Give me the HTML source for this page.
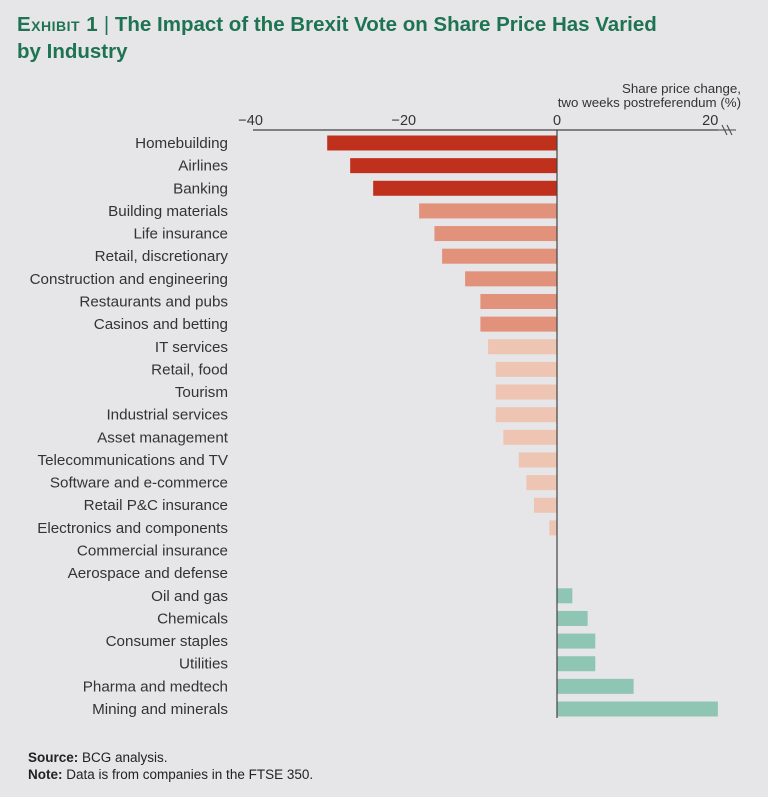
<!DOCTYPE html>
<html><head><meta charset="utf-8"><style>
body{margin:0;background:#e6e6e8;width:768px;height:797px;overflow:hidden;font-family:"Liberation Sans",sans-serif;}
#title{position:absolute;left:17px;top:11px;color:#1d7352;font-weight:bold;font-size:20.5px;line-height:27px;}
#title .ex{font-variant:small-caps;letter-spacing:0.5px}
.foot{position:absolute;left:28px;font-size:13.5px;color:#222}
</style></head><body>
<div id="title"><span class="ex">Exhibit 1</span><span style="font-weight:normal"> | </span>The Impact of the Brexit Vote on Share Price Has Varied<br>by Industry</div>
<svg id="chart" width="768" height="797" style="position:absolute;left:0;top:0"></svg>
<div class="foot" style="top:750px"><b>Source:</b> BCG analysis.</div>
<div class="foot" style="top:767px"><b>Note:</b> Data is from companies in the FTSE 350.</div>
<script>
const categories=["Homebuilding","Airlines","Banking","Building materials","Life insurance","Retail, discretionary","Construction and engineering","Restaurants and pubs","Casinos and betting","IT services","Retail, food","Tourism","Industrial services","Asset management","Telecommunications and TV","Software and e-commerce","Retail P&C insurance","Electronics and components","Commercial insurance","Aerospace and defense","Oil and gas","Chemicals","Consumer staples","Utilities","Pharma and medtech","Mining and minerals"];
const values=[-30,-27,-24,-18,-16,-15,-12,-10,-10,-9,-8,-8,-8,-7,-5,-4,-3,-1,0,0,2,4,5,5,10,21];
const tickValues=[-40,-20,0,20];
const tickLabels=["\u221240","\u221220","0","20"];
const NS="http://www.w3.org/2000/svg";
const svg=document.getElementById('chart');
const x=v=>557+v*7.66;
const y=i=>143+i*22.64;
function mk(t,a){const e=document.createElementNS(NS,t);for(const k in a)e.setAttribute(k,a[k]);svg.appendChild(e);return e;}
function color(v,i){if(v>0)return"#8fc5b3";if(i<3)return"#bf311d";if(i<9)return"#e2917a";return"#eec4b2";}
categories.forEach((c,i)=>{
  const v=values[i];
  if(v!==0){
    const r=mk('rect',{x:Math.min(x(v),x(0)),y:y(i)-7.5,width:Math.abs(x(v)-x(0)),height:15,fill:color(v,i)});
    
    
  }
  const t=mk('text',{x:228,y:y(i)+5,'text-anchor':'end','font-size':'15.2',fill:'#333','font-family':'Liberation Sans, sans-serif'});
  t.textContent=c;
  
  
});
const ax=mk('line',{x1:253,x2:718,y1:130,y2:130,stroke:'#444','stroke-width':1.2});


const br=mk('path',{d:'M718 130H736M722 125L727 135M727 125L732 135',stroke:'#444',fill:'none','stroke-width':1});


const zl=mk('line',{x1:557,x2:557,y1:130,y2:718,stroke:'#444','stroke-width':1.2});


tickValues.forEach((v,i)=>{
  const t=mk('text',{x:x(v),y:125,'text-anchor':'middle','font-size':'14.5',fill:'#333','font-family':'Liberation Sans, sans-serif'});
  t.textContent=tickLabels[i];
  
  
});
["Share price change,","two weeks postreferendum (%)"].forEach((s,i)=>{
  const t=mk('text',{x:741,y:93+i*14,'text-anchor':'end','font-size':'13.3',fill:'#333','font-family':'Liberation Sans, sans-serif'});
  t.textContent=s;
  
  
});
</script>
</body></html>
